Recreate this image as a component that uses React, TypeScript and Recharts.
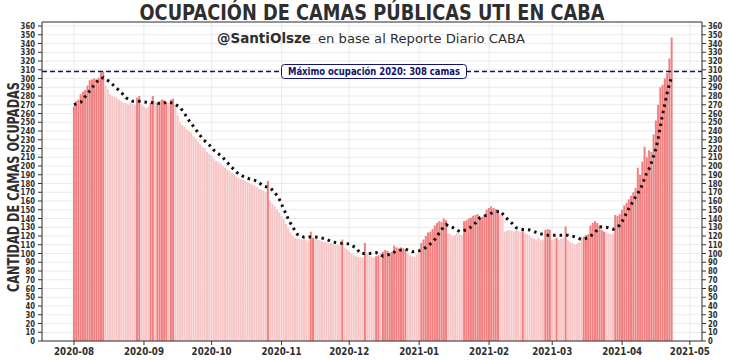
import React from "react";
import { ComposedChart, Bar, Line, XAxis, YAxis, CartesianGrid, ReferenceLine, Cell } from "recharts";

// day 0 = 2020-08-01
const monthTickDays = [0, 31, 61, 92, 122, 153, 184, 212, 243, 273];
const monthTickLabels = ["2020-08", "2020-09", "2020-10", "2020-11", "2020-12", "2021-01", "2021-02", "2021-03", "2021-04", "2021-05"];
const yTickValues = [0, 10, 20, 30, 40, 50, 60, 70, 80, 90, 100, 110, 120, 130, 140, 150, 160, 170, 180, 190, 200, 210, 220, 230, 240, 250, 260, 270, 280, 290, 300, 310, 320, 330, 340, 350, 360];
const maxOccupancy2020 = 308;

const occupiedBeds = [
  268, 274, 276, 282, 285, 287, 292, 298, 299, 300, 299, 301, 307, 308,
  292, 288, 282, 280, 279, 278, 276,
  274, 272, 272, 270, 272, 271, 270, 278, 280, 270, 268, 266, 268, 272, 280, 274, 272, 274, 276, 275, 273, 272, 276, 277, 270,
  258, 250, 247, 245, 242, 240, 238, 234, 231, 228, 225, 222, 220, 216, 214, 212, 208, 206, 205, 203,
  200, 198, 196, 194, 192, 190, 188, 186, 185, 184, 183, 182, 180, 179, 178, 176, 174, 173, 172, 170,
  183, 160, 157, 154, 150, 147, 143, 139, 134, 129, 124, 120,
  118, 117, 117, 116, 116, 115, 115, 125, 118, 117, 116, 115, 114, 113, 113, 112, 112, 111, 110, 110, 109, 116,
  107, 105, 103, 100, 98, 97, 96, 96, 95, 112, 100, 98, 96, 95, 97, 98, 100, 102, 104, 103, 101, 102, 109,
  107, 106, 107, 106, 105, 100, 98, 97, 96, 99, 100,
  112, 116, 120, 124, 125, 128, 132, 135, 137, 136, 140, 138, 123, 122, 120, 121, 124, 122, 121,
  137, 138, 140, 141, 143, 144, 145, 140, 142, 144, 150, 152, 154, 152, 151, 150, 144, 143,
  125, 126, 127, 126, 125, 127, 126, 125, 128, 123, 122, 120, 118, 117, 116, 118, 115, 116,
  127, 128, 127, 115, 117, 118, 116, 117, 118, 131, 115, 113, 112, 110, 111, 113, 118, 119, 121, 122,
  132, 135, 137, 135, 132, 127, 125, 124, 123, 122, 123,
  144, 143, 145, 150, 155, 158, 162, 166, 170, 175,
  198, 190, 205, 222, 210, 218, 216, 236, 252, 270, 290, 293, 300, 306, 323, 347,
];

const trendDays = [0, 3, 7, 9, 11, 13, 16, 18, 21, 23, 26, 29, 32, 36, 39, 41, 44, 47, 49, 51, 53, 55, 57, 60, 62, 65, 67, 69, 72, 75, 78, 81, 84, 87, 89, 91, 94, 95, 97, 99, 102, 105, 109, 112, 115, 119, 122, 125, 127, 131, 134, 137, 140, 143, 147, 150, 153, 156, 159, 161, 163, 165, 168, 171, 174, 177, 180, 183, 186, 189, 191, 194, 196, 199, 202, 205, 209, 212, 215, 219, 222, 225, 228, 231, 233, 236, 239, 242, 244, 245, 247, 249, 251, 252, 253, 254, 255, 256, 257, 258, 259, 260, 261, 262, 263, 264, 265];
const trendValues = [270, 273, 286, 293, 299, 301, 296, 291, 284, 278, 274, 274, 273, 272, 271, 273, 272, 267, 260, 252, 245, 238, 231, 224, 218, 212, 207, 201, 193, 188, 185, 183, 177, 175, 170, 162, 145, 139, 130, 122, 118.5, 119, 118.5, 116, 113, 111.5, 111, 106.5, 100, 100, 101, 97, 99, 103, 105, 102, 103, 107, 113, 120, 127.5, 133, 129.5, 125, 127, 132, 141, 144, 147, 148.5, 142, 135, 129.5, 127.5, 127, 124, 121, 121, 121, 121, 119, 116, 118, 124, 130.5, 130, 127.5, 132.5, 141, 147, 156, 165, 173, 179, 186, 193, 197, 204, 212, 220, 232, 246, 260, 272, 284, 294, 302];

const trendByDay: Record<number, number> = {};
trendDays.forEach((d, i) => {
  trendByDay[d] = trendValues[i];
});
const tableData = occupiedBeds.map((v, i) => ({
  day: i,
  beds: v,
  trend: trendByDay[i] !== undefined ? trendByDay[i] : null,
}));

const DARK = "#f17f7f";
const LIGHT = "#f7c6c6";
const NAVY = "#12126e";
const TXT = "#2e2e2e";
const FONT = "DejaVu Sans, Verdana, sans-serif";
const Y_TOP = 364.6;

// bars rising week-over-week are drawn darker
const barFill = (i: number) => (i < 7 || occupiedBeds[i] > occupiedBeds[i - 7] ? DARK : LIGHT);

const YTickLeft = (props: any) => {
  const { x, y, payload } = props;
  const s = String(payload.value);
  return (
    <text x={x} y={y} dy={3} textAnchor="end" fontSize={8.5} fontWeight="bold" fill={TXT} fontFamily={FONT} textLength={s.length * 4.8} lengthAdjust="spacingAndGlyphs">
      {s}
    </text>
  );
};
const YTickRight = (props: any) => {
  const { x, y, payload } = props;
  const s = String(payload.value);
  return (
    <text x={x} y={y} dy={3} textAnchor="start" fontSize={8.5} fontWeight="bold" fill={TXT} fontFamily={FONT} textLength={s.length * 4.8} lengthAdjust="spacingAndGlyphs">
      {s}
    </text>
  );
};
const XTick = (props: any) => {
  const { x, y, payload } = props;
  const idx = monthTickDays.indexOf(payload.value);
  const s = idx >= 0 ? monthTickLabels[idx] : "";
  return (
    <text x={x} y={y} dy={8} textAnchor="middle" fontSize={10.5} fontWeight="bold" fill={TXT} fontFamily={FONT} textLength={40} lengthAdjust="spacingAndGlyphs">
      {s}
    </text>
  );
};

const MaxLabel = (props: any) => {
  const vb = props.viewBox || {};
  const cx = (vb.x || 0) + (vb.width || 0) / 2 + 2;
  const cy = vb.y || 0;
  const w = 185;
  const h = 14;
  return (
    <g>
      <rect x={cx - w / 2} y={cy - h / 2} width={w} height={h} rx={3} ry={3} fill="#ffffff" stroke={NAVY} strokeWidth={1} />
      <text x={cx} y={cy + 3.6} textAnchor="middle" fontSize={10} fontWeight="bold" fill={NAVY} fontFamily={FONT} textLength={172} lengthAdjust="spacingAndGlyphs">
        {`Máximo ocupación 2020: ${maxOccupancy2020} camas`}
      </text>
    </g>
  );
};

export default function App() {
  return (
    <div style={{ position: "absolute", left: 0, top: 0, width: 730, height: 360, background: "#ffffff" }}>
      <ComposedChart width={730} height={360} data={tableData} margin={{ top: 22, right: 0, bottom: 0, left: 0 }}>
        <CartesianGrid yAxisId="left" stroke="#e6e6e6" strokeWidth={0.8} />
        <XAxis
          dataKey="day"
          type="number"
          domain={[-14.2, 278.4]}
          ticks={monthTickDays}
          interval={0}
          height={19}
          tick={<XTick />}
          tickSize={4}
          tickMargin={2}
          stroke="#333"
          tickLine={{ stroke: "#333" }}
          allowDataOverflow
        />
        <YAxis
          yAxisId="left"
          orientation="left"
          type="number"
          domain={[0, Y_TOP]}
          ticks={yTickValues}
          interval={0}
          width={42}
          tick={<YTickLeft />}
          tickSize={4}
          tickMargin={3}
          stroke="#333"
          allowDataOverflow
        />
        <YAxis
          yAxisId="right"
          orientation="right"
          type="number"
          domain={[0, Y_TOP]}
          ticks={yTickValues}
          interval={0}
          width={28}
          tick={<YTickRight />}
          tickSize={4}
          tickMargin={2}
          stroke="#333"
          allowDataOverflow
        />
        <ReferenceLine yAxisId="left" y={Y_TOP} stroke="#333" strokeWidth={1} />
        <Bar yAxisId="left" dataKey="beds" barSize={2} isAnimationActive={false}>
          {tableData.map((d, i) => (
            <Cell key={i} fill={barFill(i)} />
          ))}
        </Bar>
        <ReferenceLine yAxisId="left" y={maxOccupancy2020} stroke={NAVY} strokeWidth={1.3} strokeDasharray="5 3" label={<MaxLabel />} />
        <Line
          yAxisId="left"
          dataKey="trend"
          type="linear"
          stroke="#111"
          strokeWidth={3}
          strokeDasharray="2.5 4"
          dot={false}
          connectNulls
          isAnimationActive={false}
        />
      </ComposedChart>
      <svg width={730} height={360} style={{ position: "absolute", left: 0, top: 0, pointerEvents: "none" }}>
        <text x={372} y={20} textAnchor="middle" fontSize={21} fontWeight="bold" fill={TXT} fontFamily={FONT} textLength={465} lengthAdjust="spacingAndGlyphs">
          OCUPACIÓN DE CAMAS PÚBLICAS UTI EN CABA
        </text>
        <text x={217} y={43} fontSize={14} fontWeight="bold" fill={TXT} fontFamily={FONT} textLength={94} lengthAdjust="spacingAndGlyphs">
          @SantiOlsze
        </text>
        <text x={318} y={43} fontSize={13} fill={TXT} fontFamily={FONT} textLength={207} lengthAdjust="spacingAndGlyphs">
          en base al Reporte Diario CABA
        </text>
        <text x={19} y={187} transform="rotate(-90 19 187)" textAnchor="middle" fontSize={15} fontWeight="bold" fill={TXT} fontFamily={FONT} textLength={210} lengthAdjust="spacingAndGlyphs">
          CANTIDAD DE CAMAS OCUPADAS
        </text>
      </svg>
    </div>
  );
}
